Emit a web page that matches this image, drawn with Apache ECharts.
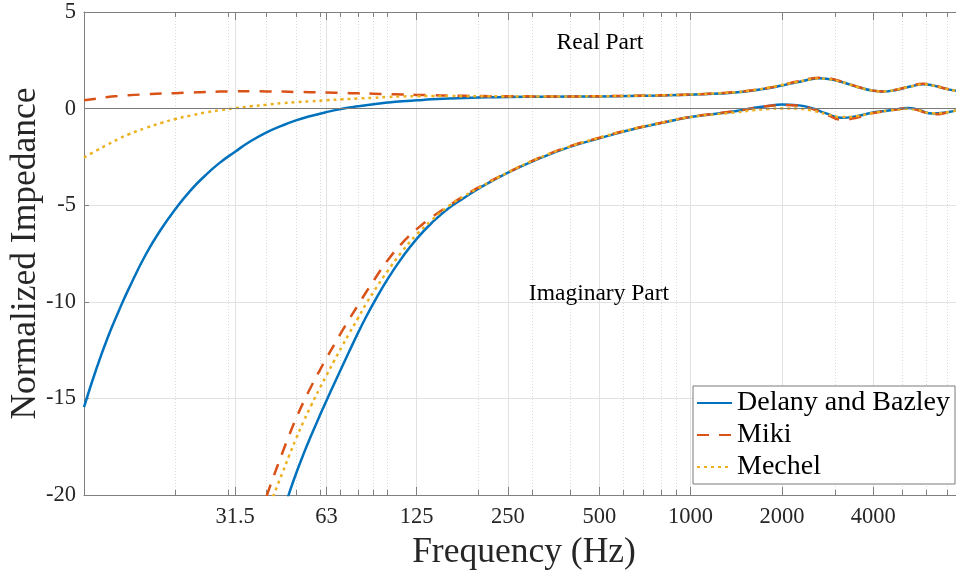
<!DOCTYPE html>
<html>
<head>
<meta charset="utf-8">
<script src="https://cdn.jsdelivr.net/npm/echarts@6/dist/echarts.min.js"></script>
<style>
html,body{margin:0;padding:0;background:#ffffff;}
#chart{width:956px;height:572px;}
</style>
</head>
<body>
<div id="chart"></div>
<script>
// ---------- data ----------
const seriesNames = ['Delany and Bazley', 'Miki', 'Mechel'];

const freqReal = [10, 11, 12, 13, 14, 16, 18, 20, 22.5, 25, 28, 31.5, 35.5, 40, 45, 50, 56, 63, 71, 80, 90, 100, 112, 125, 140, 160, 180, 200, 250, 315, 400, 500, 630, 800, 1000, 1250, 1400, 1600, 1800, 2000, 2240, 2500, 2650, 2800, 3150, 3550, 4000, 4300, 4800, 5300, 5850, 6300, 6800, 7500];

const dbReal = [-15.45, -13.44, -11.81, -10.5, -9.37, -7.54, -6.22, -5.21, -4.22, -3.49, -2.81, -2.23, -1.68, -1.23, -0.88, -0.61, -0.38, -0.18, -0.01, 0.12, 0.23, 0.31, 0.38, 0.43, 0.48, 0.52, 0.55, 0.57, 0.6, 0.61, 0.62, 0.63, 0.65, 0.68, 0.72, 0.78, 0.83, 0.93, 1.05, 1.2, 1.36, 1.52, 1.57, 1.55, 1.38, 1.12, 0.92, 0.88, 0.98, 1.14, 1.26, 1.2, 1.06, 0.92];

const mikiReal = [0.43, 0.52, 0.6, 0.65, 0.69, 0.74, 0.78, 0.8, 0.83, 0.86, 0.88, 0.89, 0.9, 0.89, 0.88, 0.86, 0.85, 0.83, 0.81, 0.79, 0.77, 0.75, 0.73, 0.71, 0.69, 0.67, 0.66, 0.65, 0.64, 0.63, 0.63, 0.64, 0.66, 0.69, 0.73, 0.8, 0.85, 0.95, 1.07, 1.22, 1.4, 1.56, 1.6, 1.58, 1.4, 1.13, 0.93, 0.89, 0.99, 1.16, 1.28, 1.22, 1.07, 0.93];

const mechelReal = [-2.53, -2.17, -1.85, -1.57, -1.34, -1.0, -0.74, -0.54, -0.36, -0.21, -0.09, 0.02, 0.12, 0.2, 0.28, 0.33, 0.38, 0.43, 0.48, 0.52, 0.56, 0.6, 0.63, 0.64, 0.65, 0.65, 0.64, 0.64, 0.63, 0.62, 0.63, 0.64, 0.66, 0.69, 0.73, 0.8, 0.85, 0.95, 1.08, 1.22, 1.38, 1.52, 1.56, 1.54, 1.38, 1.12, 0.93, 0.89, 0.99, 1.14, 1.25, 1.2, 1.06, 0.92];

const freqImag = [40, 42, 45, 47.5, 50, 53, 56, 60, 63, 67, 71, 75, 80, 85, 90, 100, 112, 125, 140, 160, 180, 200, 250, 315, 400, 500, 630, 800, 1000, 1250, 1400, 1600, 1800, 2000, 2240, 2500, 2800, 3150, 3550, 4000, 4500, 5000, 5200, 5600, 6300, 7100, 7500];

const dbImag = [null, null, -21.04, -19.9, -18.9, -17.86, -16.95, -15.86, -15.12, -14.2, -13.35, -12.55, -11.62, -10.8, -10.08, -8.85, -7.7, -6.74, -5.92, -5.13, -4.6, -4.14, -3.32, -2.6, -1.98, -1.54, -1.11, -0.75, -0.44, -0.24, -0.14, 0.02, 0.14, 0.21, 0.18, 0.03, -0.25, -0.48, -0.38, -0.2, -0.1, 0.01, 0.03, -0.05, -0.26, -0.18, -0.1];

const mikiImag = [-20.05, -19.12, -17.85, -16.9, -16.05, -15.17, -14.41, -13.52, -12.92, -12.19, -11.51, -10.89, -10.18, -9.52, -8.92, -7.88, -6.96, -6.24, -5.63, -5.01, -4.5, -4.08, -3.3, -2.57, -1.95, -1.51, -1.09, -0.73, -0.43, -0.23, -0.13, 0.02, 0.13, 0.19, 0.16, 0.0, -0.3, -0.57, -0.46, -0.23, -0.1, 0.01, 0.03, -0.07, -0.3, -0.2, -0.12];

const mechelImag = [null, -20.08, -18.89, -17.95, -17.09, -16.18, -15.39, -14.45, -13.81, -13.02, -12.29, -11.62, -10.86, -10.12, -9.5, -8.43, -7.39, -6.52, -5.78, -5.02, -4.51, -4.11, -3.3, -2.57, -1.96, -1.51, -1.09, -0.73, -0.44, -0.27, -0.2, -0.09, -0.02, 0.01, 0.0, -0.1, -0.28, -0.44, -0.38, -0.22, -0.1, -0.02, -0.01, -0.07, -0.24, -0.18, -0.1];

const majorTicks = [31.5, 63, 125, 250, 500, 1000, 2000, 4000];
const majorTickLabels = ['31.5', '63', '125', '250', '500', '1000', '2000', '4000'];
const minorTicks = [20, 30, 40, 50, 60, 70, 80, 90, 100, 200, 300, 400, 600, 700, 800, 900, 3000, 5000, 6000, 7000];

const annotations = ['Real Part', 'Imaginary Part'];

// ---------- chart ----------
const FONT = '"Liberation Serif", "Times New Roman", serif';
const AXIS_GRAY = '#808080';
const TEXT_DARK = '#262626';
const colors = ['#0072BD', '#D95319', '#EDB120'];

function pairs(xs, ys) { return xs.map((x, i) => [x, ys[i]]); }

const xBase = { type: 'log', logBase: 10, min: 10, max: 7500, gridIndex: 0 };

function lineSeries(name, xs, ys, idx, extra) {
  const types = ['solid', [12, 10], [3, 4]];
  return Object.assign({
    name: name,
    type: 'line',
    xAxisIndex: 0,
    yAxisIndex: 0,
    data: pairs(xs, ys),
    showSymbol: false,
    symbol: 'none',
    smooth: 0.5,
    connectNulls: false,
    clip: true,
    lineStyle: { color: colors[idx], width: 2.5, type: types[idx], cap: 'butt' },
    itemStyle: { color: colors[idx] },
    emphasis: { disabled: true },
    animation: false
  }, extra || {});
}

const option = {
  animation: false,
  backgroundColor: '#ffffff',
  grid: { left: 84, right: 0, top: 12, bottom: 77, containLabel: false, outerBoundsMode: 'none' },
  legend: {
    data: seriesNames,
    orient: 'vertical',
    left: 693,
    top: 386,
    padding: [3, 5, 3, 3],
    itemGap: 4,
    itemWidth: 35,
    itemHeight: 14,
    backgroundColor: '#ffffff',
    borderColor: '#7a7a7a',
    borderWidth: 1,
    borderRadius: 0,
    itemStyle: { color: 'rgba(0,0,0,0)', borderColor: 'rgba(0,0,0,0)', borderWidth: 0, opacity: 0 },
    textStyle: { fontFamily: FONT, fontSize: 28, color: '#000000', lineHeight: 28 },
    selectedMode: false
  },
  xAxis: [
    Object.assign({}, xBase, {
      position: 'bottom',
      axisLine: { show: true, onZero: false, lineStyle: { color: AXIS_GRAY, width: 1 } },
      axisTick: { show: true, inside: true, length: 8, customValues: majorTicks, lineStyle: { color: AXIS_GRAY } },
      axisLabel: {
        show: true, customValues: majorTicks, margin: 11,
        fontFamily: FONT, fontSize: 22.5, color: TEXT_DARK,
        formatter: function (v) {
          const i = majorTicks.findIndex(t => Math.abs(t - v) < 1e-6 * t + 1e-9);
          return i >= 0 ? majorTickLabels[i] : '';
        }
      },
      splitLine: { show: true, lineStyle: { color: '#e2e2e2', width: 1 } },
      minorTick: { show: false },
      minorSplitLine: { show: false },
      name: 'Frequency (Hz)',
      nameLocation: 'middle',
      nameGap: 40,
      nameMoveOverlap: false,
      nameTextStyle: { fontFamily: FONT, fontSize: 35.5, color: TEXT_DARK, padding: [0, 0, 0, 8] }
    }),
    Object.assign({}, xBase, {
      position: 'bottom',
      axisLine: { show: false, onZero: false },
      axisTick: { show: true, inside: true, length: 5, customValues: minorTicks, lineStyle: { color: AXIS_GRAY } },
      axisLabel: { show: false },
      splitLine: { show: true, lineStyle: { color: '#d9d9d9', width: 1, type: [1, 2] } }
    }),
    Object.assign({}, xBase, {
      position: 'top',
      axisLine: { show: true, onZero: false, lineStyle: { color: AXIS_GRAY, width: 1 } },
      axisTick: { show: true, inside: true, length: 8, customValues: majorTicks, lineStyle: { color: AXIS_GRAY } },
      axisLabel: { show: false },
      splitLine: { show: false }
    }),
    Object.assign({}, xBase, {
      position: 'top',
      axisLine: { show: false, onZero: false },
      axisTick: { show: true, inside: true, length: 5, customValues: minorTicks, lineStyle: { color: AXIS_GRAY } },
      axisLabel: { show: false },
      splitLine: { show: false }
    })
  ],
  yAxis: [{
    type: 'value',
    min: -20, max: 5, interval: 5,
    position: 'left',
    axisLine: { show: true, onZero: false, lineStyle: { color: AXIS_GRAY, width: 1 } },
    axisTick: { show: true, inside: true, length: 5, lineStyle: { color: AXIS_GRAY } },
    axisLabel: { fontFamily: FONT, fontSize: 22.5, color: TEXT_DARK, margin: 8 },
    splitLine: { show: true, lineStyle: { color: '#e2e2e2', width: 1 } },
    name: 'Normalized Impedance',
    nameLocation: 'middle',
    nameGap: 40,
    nameRotate: 90,
    nameMoveOverlap: false,
    nameTextStyle: { fontFamily: FONT, fontSize: 35.5, color: TEXT_DARK }
  }],
  graphic: [
    { type: 'text', x: 600, y: 42.5, silent: true, z: 50,
      style: { text: annotations[0], font: '23.5px "Liberation Serif"', fill: '#000000', align: 'center', verticalAlign: 'middle' } },
    { type: 'text', x: 599, y: 294, silent: true, z: 50,
      style: { text: annotations[1], font: '23.5px "Liberation Serif"', fill: '#000000', align: 'center', verticalAlign: 'middle' } }
  ],
  series: [
    lineSeries(seriesNames[0], freqReal, dbReal, 0, {
      markLine: {
        silent: true, symbol: ['none', 'none'], animation: false,
        label: { show: false },
        lineStyle: { color: '#7a7a7a', type: 'solid', width: 1 },
        emphasis: { disabled: true },
        data: [{ yAxis: 0 }]
      }
    }),
    lineSeries(seriesNames[0], freqImag, dbImag, 0),
    lineSeries(seriesNames[1], freqReal, mikiReal, 1),
    lineSeries(seriesNames[1], freqImag, mikiImag, 1),
    lineSeries(seriesNames[2], freqReal, mechelReal, 2),
    lineSeries(seriesNames[2], freqImag, mechelImag, 2)
  ]
};

const chart = echarts.init(document.getElementById('chart'), null, { renderer: 'canvas' });
chart.setOption(option);
</script>
</body>
</html>
